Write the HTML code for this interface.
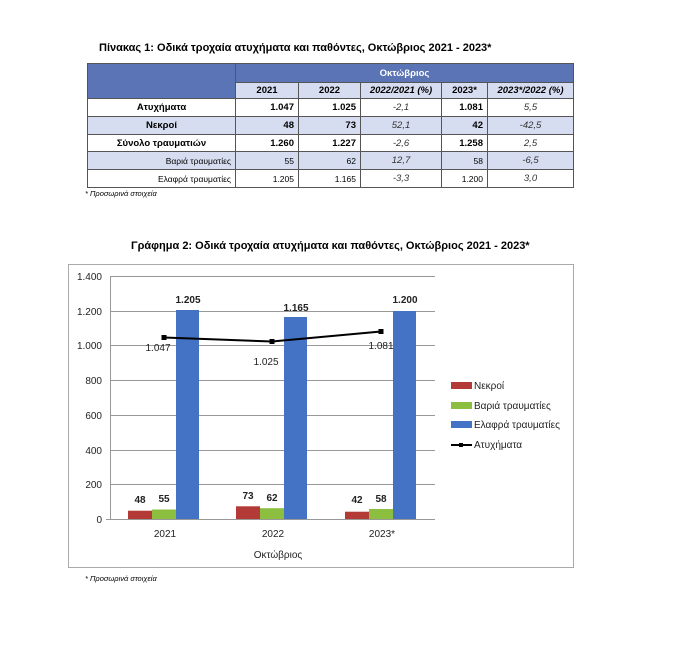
<!DOCTYPE html>
<html><head><meta charset="utf-8"><style>
body{margin:0;width:678px;height:649px;background:#fff;font-family:"Liberation Sans",sans-serif;position:relative;overflow:hidden}
.t{position:absolute;white-space:nowrap}
table{position:absolute;left:87px;top:63px;border-collapse:collapse;font-size:9.5px}
td{border:1px solid #555;padding:0 4px;height:17px;box-sizing:border-box}
.h1{background:#5a74b6;color:#fff;font-weight:bold;text-align:center;height:19px}
.h2{background:#d7ddf0;font-weight:bold;text-align:center;height:16px}
.b{background:#d7ddf0}
.r{text-align:right}.c{text-align:center}.i{font-style:italic;text-align:center;color:#333}
</style></head><body>
<div class="t" style="left:99px;top:42px;font-size:11px;font-weight:bold">Πίνακας 1: Οδικά τροχαία ατυχήματα και παθόντες, Οκτώβριος 2021 - 2023*</div>
<table>
<colgroup><col style="width:148px"><col style="width:63px"><col style="width:62px"><col style="width:81px"><col style="width:46px"><col style="width:86px"></colgroup>
<tr><td class="h1" rowspan="2" style="border-right:1px solid #555"></td><td class="h1" colspan="5">Οκτώβριος</td></tr>
<tr><td class="h2">2021</td><td class="h2">2022</td><td class="h2" style="font-style:italic">2022/2021 (%)</td><td class="h2">2023*</td><td class="h2" style="font-style:italic">2023*/2022 (%)</td></tr>
<tr><td class="c" style="font-weight:bold;height:18px">Ατυχήματα</td><td class="r"><b>1.047</b></td><td class="r"><b>1.025</b></td><td class="i">-2,1</td><td class="r"><b>1.081</b></td><td class="i">5,5</td></tr>
<tr class="b"><td class="c" style="font-weight:bold;height:18px">Νεκροί</td><td class="r"><b>48</b></td><td class="r"><b>73</b></td><td class="i">52,1</td><td class="r"><b>42</b></td><td class="i">-42,5</td></tr>
<tr><td class="c" style="font-weight:bold">Σύνολο τραυματιών</td><td class="r"><b>1.260</b></td><td class="r"><b>1.227</b></td><td class="i">-2,6</td><td class="r"><b>1.258</b></td><td class="i">2,5</td></tr>
<tr class="b"><td class="r" style="font-size:8.5px;height:18px">Βαριά τραυματίες</td><td class="r" style="font-size:8.5px">55</td><td class="r" style="font-size:8.5px">62</td><td class="i">12,7</td><td class="r" style="font-size:8.5px">58</td><td class="i">-6,5</td></tr>
<tr><td class="r" style="font-size:8.5px;height:18px">Ελαφρά τραυματίες</td><td class="r" style="font-size:8.5px">1.205</td><td class="r" style="font-size:8.5px">1.165</td><td class="i">-3,3</td><td class="r" style="font-size:8.5px">1.200</td><td class="i">3,0</td></tr>
</table>
<div class="t" style="left:85px;top:189px;font-size:7.5px;font-style:italic">* Προσωρινά στοιχεία</div>
<div class="t" style="left:131px;top:240px;font-size:11px;font-weight:bold">Γράφημα 2: Οδικά τροχαία ατυχήματα και παθόντες, Οκτώβριος 2021 - 2023*</div>
<svg style="position:absolute;left:0;top:0" width="678" height="649" font-family="Liberation Sans, sans-serif">
<rect x="68.5" y="264.5" width="505" height="303" fill="#fff" stroke="#aaa"/>
<g stroke="#999" stroke-width="1">
<line x1="110" y1="276.5" x2="435" y2="276.5"/><line x1="110" y1="311.5" x2="435" y2="311.5"/><line x1="110" y1="345.5" x2="435" y2="345.5"/><line x1="110" y1="380.5" x2="435" y2="380.5"/><line x1="110" y1="415.5" x2="435" y2="415.5"/><line x1="110" y1="450.5" x2="435" y2="450.5"/><line x1="110" y1="484.5" x2="435" y2="484.5"/><line x1="106" y1="519.5" x2="435" y2="519.5"/><line x1="110.5" y1="276" x2="110.5" y2="519"/>
</g>
<g font-size="10" text-anchor="end" fill="#222"><text x="102" y="280">1.400</text><text x="102" y="315">1.200</text><text x="102" y="349">1.000</text><text x="102" y="384">800</text><text x="102" y="419">600</text><text x="102" y="454">400</text><text x="102" y="488">200</text><text x="102" y="523">0</text></g>
<g>
<rect x="128" y="510.7" width="24" height="8.3" fill="#b33a36"/><rect x="152" y="509.5" width="24" height="9.5" fill="#8cbf3f"/><rect x="176" y="310" width="23" height="209" fill="#4472c4"/>
<rect x="236" y="506.3" width="24" height="12.7" fill="#b33a36"/><rect x="260" y="508.2" width="24" height="10.8" fill="#8cbf3f"/><rect x="284" y="317" width="23" height="202" fill="#4472c4"/>
<rect x="345" y="511.7" width="24" height="7.3" fill="#b33a36"/><rect x="369" y="509" width="24" height="10" fill="#8cbf3f"/><rect x="393" y="311" width="23" height="208" fill="#4472c4"/>
</g>
<polyline points="164,337.5 272,341.5 381,331.5" fill="none" stroke="#000" stroke-width="2"/>
<g fill="#000"><rect x="161.5" y="335" width="5" height="5"/><rect x="269.5" y="339" width="5" height="5"/><rect x="378.5" y="329" width="5" height="5"/></g>
<g font-size="10" font-weight="bold" text-anchor="middle" fill="#222">
<text x="140" y="503">48</text><text x="164" y="502">55</text><text x="188" y="303">1.205</text>
<text x="248" y="499">73</text><text x="272" y="501">62</text><text x="296" y="311">1.165</text>
<text x="357" y="503">42</text><text x="381" y="502">58</text><text x="405" y="303">1.200</text></g>
<g font-size="10" text-anchor="middle" fill="#222">
<text x="158" y="351">1.047</text><text x="266" y="365">1.025</text><text x="381" y="349">1.081</text>
<text x="165" y="537">2021</text><text x="273" y="537">2022</text><text x="382" y="537">2023*</text>
<text x="278" y="558">Οκτώβριος</text></g>
<rect x="451" y="382" width="21" height="7" fill="#b33a36"/><rect x="451" y="402" width="21" height="7" fill="#8cbf3f"/><rect x="451" y="421" width="21" height="7" fill="#4472c4"/>
<line x1="451" y1="445" x2="472" y2="445" stroke="#000" stroke-width="2"/><rect x="459" y="443" width="4" height="4"/>
<g font-size="10" fill="#222"><text x="474" y="389">Νεκροί</text><text x="474" y="409">Βαριά τραυματίες</text><text x="474" y="428">Ελαφρά τραυματίες</text><text x="474" y="448">Ατυχήματα</text></g>
</svg>
<div class="t" style="left:85px;top:574px;font-size:7.5px;font-style:italic">* Προσωρινά στοιχεία</div>
</body></html>
